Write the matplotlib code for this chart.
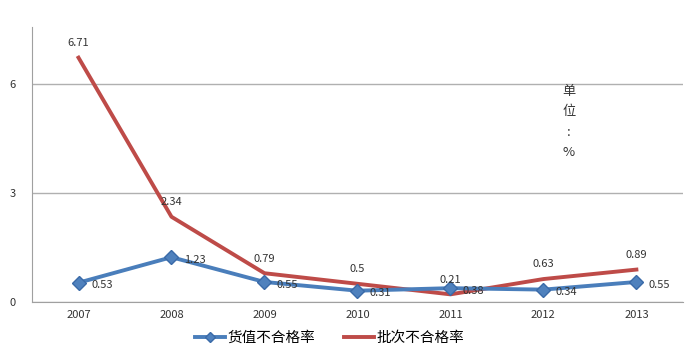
import matplotlib.pyplot as plt

plt.rcParams['font.family'] = ['Noto Sans CJK SC', 'DejaVu Sans']

years = ['2007', '2008', '2009', '2010', '2011', '2012', '2013']
value_rate = [0.53, 1.23, 0.55, 0.31, 0.38, 0.34, 0.55]
batch_rate = [6.71, 2.34, 0.79, 0.5, 0.21, 0.63, 0.89]
value_labels = ['0.53', '1.23', '0.55', '0.31', '0.38', '0.34', '0.55']
batch_labels = ['6.71', '2.34', '0.79', '0.5', '0.21', '0.63', '0.89']

fig = plt.figure(figsize=(6.87, 3.56), dpi=100)
ax = fig.add_axes([0.0466, 0.1517, 0.9474, 0.7723])

x = list(range(len(years)))
ax.plot(x, value_rate, color='#4a7ebb', lw=2.8, marker='D', ms=7,
        markerfacecolor='#4f81bd', markeredgecolor='#3a6aa8', label='货值不合格率', zorder=3)
ax.plot(x, batch_rate, color='#be4b48', lw=2.8, label='批次不合格率', zorder=2)

for i in x:
    ax.annotate(value_labels[i], (i, value_rate[i]), xytext=(9, -2), textcoords='offset points',
                ha='left', va='center', fontsize=8, color='#333333', zorder=5)
    ax.annotate(batch_labels[i], (i, batch_rate[i]), xytext=(0, 7), textcoords='offset points',
                ha='center', va='bottom', fontsize=8, color='#333333', zorder=5)

ax.set_xlim(-0.5, 6.5)
ax.set_ylim(0, 7.55)
ax.set_yticks([0, 3, 6])
ax.set_xticks(x)
ax.set_xticklabels(years)
ax.tick_params(axis='both', length=0, labelsize=8, colors='#333333')
ax.tick_params(axis='y', pad=12)
ax.tick_params(axis='x', pad=6)
ax.grid(axis='y', color='#b0b0b0', lw=1)
ax.set_axisbelow(True)
for s in ['top', 'right']:
    ax.spines[s].set_visible(False)
ax.spines['left'].set_color('#a0a0a0')
ax.spines['bottom'].set_color('#a0a0a0')

ax.text(0.825, 0.79, '单\n位\n:\n%', transform=ax.transAxes, fontsize=9.5,
        ha='center', va='top', color='#333333', linespacing=1.75)

fig.legend(loc='center', bbox_to_anchor=(0.48, 0.05), ncol=2, frameon=False,
           fontsize=10.5, handlelength=2.0, columnspacing=2, handletextpad=0.2,
           markerscale=0.8)

fig.savefig('out.png', dpi=100)
